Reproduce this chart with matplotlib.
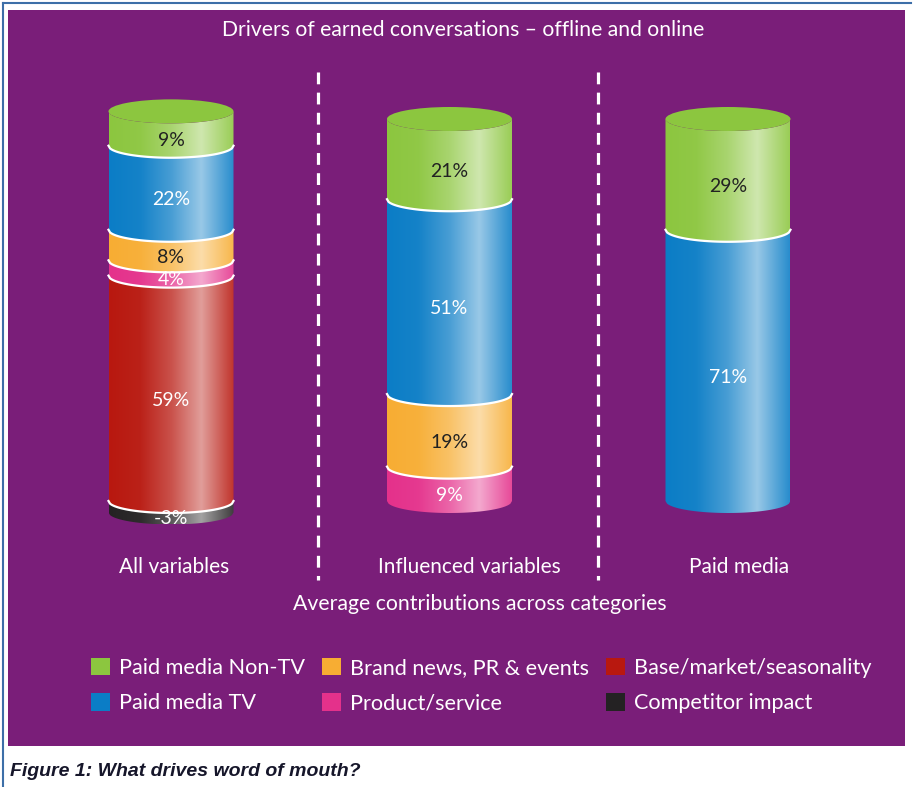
import numpy as np
import matplotlib.pyplot as plt
from matplotlib.path import Path
from matplotlib.patches import PathPatch, Ellipse, Patch
from matplotlib.lines import Line2D
from matplotlib.colors import to_rgb

plt.rcParams['font.family'] = ['Lato', 'DejaVu Sans']
plt.rcParams['lines.scale_dashes'] = False

# ---- data ----
categories = ["All variables", "Influenced variables", "Paid media"]
drivers = ["Paid media Non-TV", "Paid media TV", "Brand news, PR & events",
           "Product/service", "Base/market/seasonality", "Competitor impact"]
non_tv = [9, 21, 29]
tv = [22, 51, 71]
brand = [8, 19, 0]
product = [4, 9, 0]
base = [59, 0, 0]
competitor = [-3, 0, 0]

driver_colors = {
    "Paid media Non-TV": "#8cc63f",
    "Paid media TV": "#0b7dc6",
    "Brand news, PR & events": "#f7ad33",
    "Product/service": "#e4318b",
    "Base/market/seasonality": "#b8180f",
    "Competitor impact": "#242223",
}
dark_text = {"Paid media Non-TV", "Brand news, PR & events"}
purple = "#7a1e79"

W, H = 914, 787
fig = plt.figure(figsize=(W / 100, H / 100), dpi=100)


def fpos(x, y):
    # pixel position -> figure fraction
    return x / W, 1 - y / H


# purple panel doubles as the plotting area
left, right, top, bottom = 8, 905, 10, 746
ax = fig.add_axes([left / W, 1 - bottom / H, (right - left) / W, (bottom - top) / H])
ax.set_facecolor(purple)
for s in ax.spines.values():
    s.set_visible(False)
ax.set_xticks([])
ax.set_yticks([])

# scale: bar spacing in px per category, px per percentage point
x0_px, dx_px = 171, 278.5
y0_px, dy_px = 501, 3.82
xlim = ((left - x0_px) / dx_px, (right - x0_px) / dx_px)
ylim = ((y0_px - bottom) / dy_px, (y0_px - top) / dy_px)

half_w = 62.5 / dx_px      # cylinder half width
sag = 12 / dy_px           # ellipse half height

t = np.linspace(0, 1, 256)
shine = np.interp(t, [0, 0.25, 0.5, 0.74, 0.88, 1.0], [0.0, 0.04, 0.25, 0.58, 0.33, 0.12])


def arc(xc, y, n=80):
    xs = np.linspace(xc - half_w, xc + half_w, n)
    ys = y - sag * np.sqrt(np.clip(1 - ((xs - xc) / half_w) ** 2, 0, 1))
    return xs, ys


def segment(xc, y0, y1, color):
    bx, by = arc(xc, y0)
    tx, ty = arc(xc, y1)
    verts = np.concatenate([np.column_stack([bx, by]), np.column_stack([tx[::-1], ty[::-1]])])
    verts = np.vstack([verts, verts[:1]])
    codes = [Path.MOVETO] + [Path.LINETO] * (len(verts) - 2) + [Path.CLOSEPOLY]
    patch = PathPatch(Path(verts, codes), facecolor="none", edgecolor="none")
    ax.add_patch(patch)
    c = np.array(to_rgb(color))
    grad = c[None, :] * (1 - shine[:, None]) + shine[:, None]
    im = ax.imshow(grad[None, :, :], extent=[xc - half_w, xc + half_w, y0 - sag, y1],
                   aspect="auto", interpolation="bilinear", zorder=2)
    im.set_clip_path(patch)


stack_order = [("Base/market/seasonality", base), ("Product/service", product),
               ("Brand news, PR & events", brand), ("Paid media TV", tv),
               ("Paid media Non-TV", non_tv)]

for i in range(len(categories)):
    pieces = []
    if competitor[i] < 0:
        pieces.append(("Competitor impact", competitor[i], 0))
    level = 0
    for name, vals in stack_order:
        if vals[i] > 0:
            pieces.append((name, level, level + vals[i]))
            level += vals[i]
    for name, y0, y1 in pieces:
        segment(i, y0, y1, driver_colors[name])
        val = y1 - y0 if y0 >= 0 else y0
        ax.text(i, (y0 + y1) / 2 - sag, f"{val}%", ha="center", va="center",
                fontsize=14, color="#222222" if name in dark_text else "white", zorder=4)
    # white seams between stacked pieces
    for name, y0, y1 in pieces[1:]:
        sx, sy = arc(i, y0)
        ax.plot(sx, sy, color="white", lw=1.6, zorder=3)
    # top face of the cylinder
    top_name, _, top_y = pieces[-1]
    ax.add_patch(Ellipse((i, top_y), 2 * half_w, 2 * sag,
                         facecolor=driver_colors[top_name], edgecolor="none", zorder=2.5))

# dashed separators
for d in [0.528, 1.533]:
    ax.plot([d, d], [(y0_px - 72) / dy_px, (y0_px - 580) / dy_px], color="white",
            lw=2.3, dashes=[8.5, 6], zorder=1)

label_shift = [0.01, 0.07, 0.04]
for i, cat in enumerate(categories):
    ax.text(i + label_shift[i], (y0_px - 567) / dy_px, cat, ha="center", va="center",
            fontsize=15, color="white")

ax.set_xlim(*xlim)
ax.set_ylim(*ylim)

fig.text(*fpos(463, 30), "Drivers of earned conversations \u2013 offline and online",
         ha="center", va="center", fontsize=15.2, color="white")
fig.text(*fpos(480, 604), "Average contributions across categories",
         ha="center", va="center", fontsize=15.3, color="white")

handles = [Patch(facecolor=driver_colors[d], edgecolor="none") for d in drivers]
leg = ax.legend(handles, drivers, ncol=3, loc="upper left", frameon=False,
                bbox_to_anchor=fpos(91, 658), bbox_transform=fig.transFigure,
                fontsize=15.6, labelcolor="white", borderpad=0, borderaxespad=0,
                handlelength=0.88, handleheight=0.85, handletextpad=0.4,
                columnspacing=0.8, labelspacing=0.7)

fig.text(*fpos(10, 771), "Figure 1: What drives word of mouth?", ha="left", va="center",
         fontsize=14, fontweight="bold", fontstyle="italic",
         family=["Liberation Sans", "DejaVu Sans"], color="#16162a")

# thin blue frame along top and left edges
fig.add_artist(Line2D([3 / W, 3 / W], [0, 1 - 3 / H], transform=fig.transFigure,
                      color="#3d6fa8", lw=1.5))
fig.add_artist(Line2D([3 / W, 911 / W], [1 - 3 / H, 1 - 3 / H], transform=fig.transFigure,
                      color="#3d6fa8", lw=1.5))

fig.savefig("out.png", dpi=100, facecolor="white")
